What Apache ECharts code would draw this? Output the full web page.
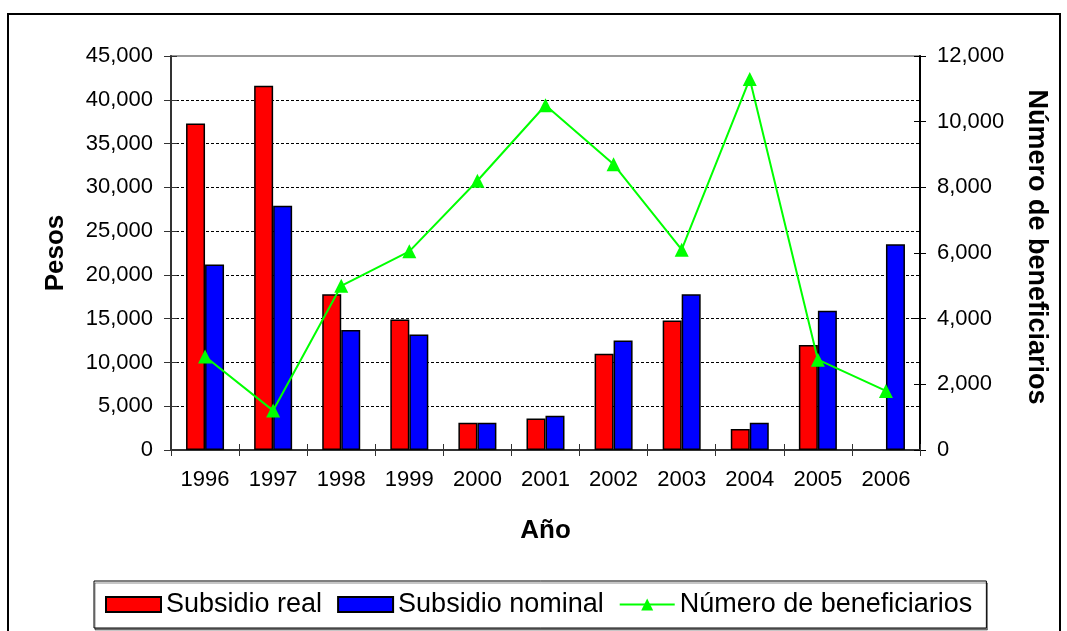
<!DOCTYPE html>
<html>
<head>
<meta charset="utf-8">
<script src="https://cdn.jsdelivr.net/npm/echarts@6/dist/echarts.min.js"></script>
<style>
html,body{margin:0;padding:0;background:#fff;}
#chart{width:1067px;height:631px;}
</style>
</head>
<body>
<div id="chart"></div>
<script>
const years = ['1996','1997','1998','1999','2000','2001','2002','2003','2004','2005','2006'];
const subsidioReal = [37300, 41600, 17800, 14900, 3100, 3600, 11000, 14800, 2400, 12000, null];
const subsidioNominal = [21200, 27900, 13700, 13200, 3100, 3900, 12500, 17800, 3100, 15900, 23500];
const beneficiarios = [2850, 1200, 5000, 6050, 8200, 10500, 8700, 6100, 11300, 2750, 1800];
const seriesNames = ['Subsidio real', 'Subsidio nominal', 'Número de beneficiarios'];
const axisNames = { left: 'Pesos', right: 'Número de beneficiarios', bottom: 'Año' };

const FONT = '"Liberation Sans", Arial, sans-serif';
const fmt = v => Number(v).toLocaleString('en-US');

const chart = echarts.init(document.getElementById('chart'), null, { renderer: 'canvas' });
chart.setOption({
  backgroundColor: '#ffffff',
  animation: false,
  textStyle: { fontFamily: FONT, color: '#000' },
  graphic: [{
    type: 'rect',
    shape: { x: 8, y: 14, width: 1052, height: 700 },
    style: { fill: 'none', stroke: '#000', lineWidth: 2 },
    silent: true, z: -1
  }],
  grid: {
    left: 171, top: 56, width: 749, height: 394,
    show: true, borderColor: '#9a9a9a', borderWidth: 2, backgroundColor: 'transparent'
  },
  legend: {
    left: 94, top: 581,
    padding: [10, 14, 10, 11],
    itemGap: 15,
    itemWidth: 55, itemHeight: 15,
    borderColor: '#000', borderWidth: 1,
    shadowColor: 'rgba(0,0,0,0.45)', shadowOffsetX: 1, shadowOffsetY: 2, shadowBlur: 0,
    backgroundColor: '#fff',
    textStyle: { fontSize: 27, fontFamily: FONT, color: '#000' },
    data: [
      { name: seriesNames[0], icon: 'rect' },
      { name: seriesNames[1], icon: 'rect' },
      { name: seriesNames[2] }
    ]
  },
  xAxis: [{
    type: 'category',
    data: years,
    boundaryGap: true,
    position: 'bottom',
    name: axisNames.bottom,
    nameLocation: 'middle',
    nameGap: 68,
    nameTextStyle: { fontSize: 26, fontWeight: 'bold', fontFamily: FONT, color: '#000' },
    axisLine: { lineStyle: { color: '#333', width: 2 } },
    axisTick: { show: true, length: 6, interval: 0, lineStyle: { color: '#333', width: 1 } },
    axisLabel: { fontSize: 22, margin: 19, color: '#000', fontFamily: FONT, interval: 0 }
  }, {
    type: 'category',
    data: years,
    boundaryGap: true,
    position: 'bottom',
    axisLine: { show: false },
    axisTick: { show: true, inside: true, length: 6, interval: 0, lineStyle: { color: '#333', width: 1 } },
    axisLabel: { show: false },
    splitLine: { show: false }
  }],
  yAxis: [{
    type: 'value',
    min: 0, max: 45000, interval: 5000,
    position: 'left',
    name: axisNames.left,
    nameLocation: 'middle',
    nameGap: 102,
    nameTextStyle: { fontSize: 26, fontWeight: 'bold', fontFamily: FONT, color: '#000' },
    axisLine: { show: true, lineStyle: { color: '#333', width: 2 } },
    axisTick: { show: true, length: 7, lineStyle: { color: '#333', width: 1 } },
    axisLabel: { fontSize: 22, margin: 18, color: '#000', fontFamily: FONT, formatter: fmt },
    splitLine: { show: true, showMaxLine: false, lineStyle: { color: '#000', type: [3, 2], width: 1 } }
  }, {
    type: 'value',
    min: 0, max: 12000, interval: 2000,
    position: 'right',
    name: axisNames.right,
    nameLocation: 'middle',
    nameRotate: -90,
    nameGap: 103,
    nameTextStyle: { fontSize: 27, fontWeight: 'bold', fontFamily: FONT, color: '#000', padding: [0, 12, 0, 0] },
    axisLine: { show: true, lineStyle: { color: '#000', width: 2 } },
    axisTick: { show: true, length: 6, lineStyle: { color: '#000', width: 1 } },
    axisLabel: { fontSize: 22, margin: 17, color: '#000', fontFamily: FONT, formatter: fmt },
    splitLine: { show: false }
  }, {
    type: 'value',
    min: 0, max: 45000, interval: 5000,
    position: 'left', offset: 0,
    axisLine: { show: false },
    axisTick: { show: true, inside: true, length: 6, lineStyle: { color: '#333', width: 1 } },
    axisLabel: { show: false },
    splitLine: { show: false }
  }, {
    type: 'value',
    min: 0, max: 12000, interval: 2000,
    position: 'right', offset: 0,
    axisLine: { show: false },
    axisTick: { show: true, inside: true, length: 6, lineStyle: { color: '#000', width: 1 } },
    axisLabel: { show: false },
    splitLine: { show: false }
  }],
  series: [{
    name: seriesNames[0],
    type: 'bar',
    data: subsidioReal,
    barWidth: 19,
    barGap: '0%',
    itemStyle: { color: '#ff0000', borderColor: '#000', borderWidth: 1.5 }
  }, {
    name: seriesNames[1],
    type: 'bar',
    data: subsidioNominal,
    barWidth: 19,
    barGap: '0%',
    itemStyle: { color: '#0000ff', borderColor: '#000', borderWidth: 1.5 }
  }, {
    name: seriesNames[2],
    type: 'line',
    yAxisIndex: 1,
    data: beneficiarios,
    symbol: 'triangle',
    symbolSize: 14,
    lineStyle: { color: '#00ff00', width: 2 },
    itemStyle: { color: '#00ff00', borderWidth: 0 },
    z: 5
  }]
});
</script>
</body>
</html>
